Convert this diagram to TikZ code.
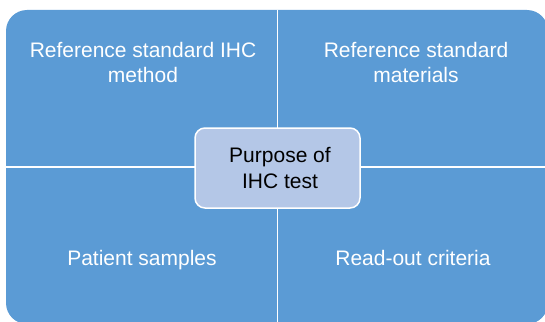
\documentclass[tikz,border=0pt]{standalone}
\usepackage{fontspec}
\setmainfont{Liberation Sans}
\definecolor{quad}{HTML}{5B9BD5}
\definecolor{hub}{HTML}{B4C7E7}
\begin{document}
\begin{tikzpicture}[x=1pt,y=-1pt,
  quadlbl/.style={text=white, font=\fontsize{21}{25}\selectfont, align=center, inner sep=0pt, anchor=base},
  divider/.style={draw=white, line width=1.2pt},
  hubbox/.style={fill=hub, draw=white, line width=1.5pt, rounded corners=10pt,
    minimum width=165pt, minimum height=80pt, inner sep=0pt,
    font=\fontsize{21}{26}\selectfont, align=center, text=black}]
\useasboundingbox (0,0) rectangle (545,321);
\fill[quad, rounded corners=21pt] (6,10) rectangle (548,324);
\coordinate (dtop) at (277.5,10);
\coordinate (dbot) at (277.5,324);
\coordinate (dleft) at (6,167);
\coordinate (dright) at (548,167);
\path[divider] (dtop) -- (dbot);
\path[divider] (dleft) -- (dright);
\node[quadlbl] (tl) at (143,82) {Reference standard IHC\\method};
\node[quadlbl] (tr) at (416,82) {Reference standard\\materials};
\node[quadlbl] (bl) at (142,265) {Patient samples};
\node[quadlbl] (br) at (413,265) {Read-out criteria};
\node[hubbox] (hub) at (277.5,168) {\hspace*{5pt}Purpose of\\\hspace*{5pt}IHC test};
\end{tikzpicture}
\end{document}
